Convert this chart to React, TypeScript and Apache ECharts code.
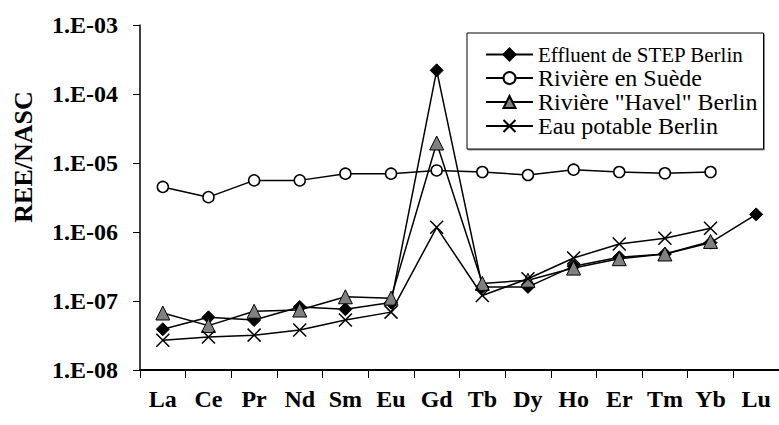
import React, { useEffect, useRef } from "react";
import * as echarts from "echarts";

const categories = ["La", "Ce", "Pr", "Nd", "Sm", "Eu", "Gd", "Tb", "Dy", "Ho", "Er", "Tm", "Yb", "Lu"];
const seriesNames = ["Effluent de STEP Berlin", "Rivière en Suède", "Rivière \"Havel\" Berlin", "Eau potable Berlin"];
const stepBerlin = [3.9e-8, 5.8e-8, 5.3e-8, 8.2e-8, 7.6e-8, 9.5e-8, 2.2e-4, 1.6e-7, 1.6e-7, 3.2e-7, 4.3e-7, 4.8e-7, 7.0e-7, 1.8e-6];
const riviereSuede = [4.5e-6, 3.2e-6, 5.6e-6, 5.6e-6, 7.0e-6, 7.0e-6, 7.8e-6, 7.4e-6, 6.7e-6, 8.0e-6, 7.4e-6, 7.1e-6, 7.4e-6, null];
const havelBerlin = [6.7e-8, 4.4e-8, 7.1e-8, 7.4e-8, 1.15e-7, 1.1e-7, 1.95e-5, 1.8e-7, 2.0e-7, 3.0e-7, 4.1e-7, 4.8e-7, 7.3e-7, null];
const eauPotable = [2.7e-8, 3.0e-8, 3.2e-8, 3.8e-8, 5.3e-8, 6.9e-8, 1.17e-6, 1.2e-7, 2.1e-7, 4.2e-7, 6.7e-7, 8.1e-7, 1.13e-6, null];
const yTickLabels = ["1.E-08", "1.E-07", "1.E-06", "1.E-05", "1.E-04", "1.E-03"];
const yMinExp = -8;
const yMaxExp = -3;

const FONT = "Liberation Serif";
const CROSS = "path://M0,0L10,10M10,0L0,10";

export default function App() {
  const ref = useRef<HTMLDivElement>(null);
  useEffect(() => {
    if (!ref.current) return;
    const chart = echarts.init(ref.current, null, { renderer: "svg" });
    const lineStyle = { color: "#000", width: 1.5 };
    chart.setOption({
      animation: false,
      backgroundColor: "#fff",
      textStyle: { fontFamily: FONT },
      grid: { left: 140, top: 25, width: 640, height: 345 },
      xAxis: {
        type: "category",
        data: categories,
        boundaryGap: true,
        axisLine: { lineStyle: { color: "#000", width: 2 } },
        axisTick: { show: true, length: 8, inside: false, lineStyle: { color: "#000", width: 1 } },
        axisLabel: { color: "#000", fontFamily: FONT, fontWeight: "bold", fontSize: 24, margin: 17, interval: 0 },
        splitLine: { show: false },
      },
      yAxis: {
        type: "log",
        logBase: 10,
        min: Math.pow(10, yMinExp),
        max: Math.pow(10, yMaxExp),
        axisLine: { show: true, lineStyle: { color: "#000", width: 1.5 } },
        axisTick: { show: true, length: 7, inside: false, lineStyle: { color: "#000", width: 1 } },
        minorTick: { show: false },
        splitLine: { show: false },
        axisLabel: {
          color: "#000",
          fontFamily: FONT,
          fontWeight: "bold",
          fontSize: 24,
          margin: 22,
          formatter: (v: number) => {
            const e = Math.round(Math.log10(v));
            return yTickLabels[e - yMinExp] ?? "";
          },
        },
      },
      legend: {
        orient: "vertical",
        left: 467,
        top: 33,
        padding: [10, 6, 11, 18],
        itemGap: 0,
        itemWidth: 47,
        itemHeight: 15,
        backgroundColor: "#fff",
        borderColor: "#000",
        borderWidth: 1,
        shadowColor: "rgba(0,0,0,0.45)",
        shadowOffsetX: 1,
        shadowOffsetY: 1,
        data: seriesNames.map((name, i) => ({
          name,
          textStyle: { fontSize: i === 0 ? 21 : 24, lineHeight: 23, fontFamily: FONT, color: "#000" },
        })),
        textStyle: { color: "#000", fontFamily: FONT, fontSize: 24, lineHeight: 23 },
      },
      graphic: [
        {
          type: "text",
          x: 23,
          y: 157,
          rotation: Math.PI / 2,
          style: {
            text: "REE/NASC",
            fontFamily: FONT,
            fontWeight: "bold",
            fontSize: 26,
            fill: "#000",
            textAlign: "center",
            textVerticalAlign: "middle",
          },
        },
      ],
      series: [
        {
          name: seriesNames[0],
          type: "line",
          data: stepBerlin,
          symbol: "diamond",
          symbolSize: 13,
          lineStyle,
          itemStyle: { color: "#000", borderColor: "#000", borderWidth: 1 },
          z: 2,
        },
        {
          name: seriesNames[1],
          type: "line",
          data: riviereSuede,
          symbol: "circle",
          symbolSize: 11,
          lineStyle,
          itemStyle: { color: "#fff", borderColor: "#000", borderWidth: 1.5 },
          z: 3,
        },
        {
          name: seriesNames[2],
          type: "line",
          data: havelBerlin,
          symbol: "triangle",
          symbolSize: 14,
          lineStyle,
          itemStyle: { color: "#808080", borderColor: "#000", borderWidth: 1 },
          z: 4,
        },
        {
          name: seriesNames[3],
          type: "line",
          data: eauPotable,
          symbol: CROSS,
          symbolSize: 13,
          lineStyle,
          itemStyle: { color: "transparent", borderColor: "#000", borderWidth: 1.5 },
          z: 5,
        },
      ],
    });
    return () => chart.dispose();
  }, []);
  return <div ref={ref} style={{ position: "fixed", left: 0, top: 0, width: 779, height: 425 }} />;
}
